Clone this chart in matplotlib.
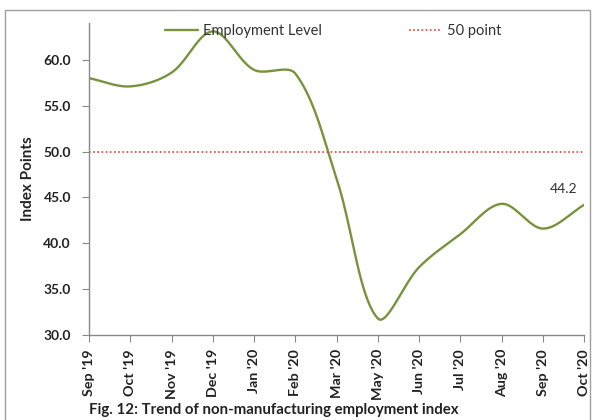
import numpy as np
import matplotlib
matplotlib.use("Agg")
import matplotlib.pyplot as plt
from matplotlib.patches import Rectangle

categories = ["Sep '19", "Oct '19", "Nov '19", "Dec '19", "Jan '20", "Feb '20",
              "Mar '20", "May '20", "Jun '20", "Jul '20", "Aug '20", "Sep '20", "Oct '20"]
employment = [58.0, 57.1, 58.6, 63.1, 58.9, 58.5, 47.0, 31.8, 37.4, 41.0, 44.3, 41.6, 44.2]
threshold = 50.0
yticks = [30.0, 35.0, 40.0, 45.0, 50.0, 55.0, 60.0]

plt.rcParams['font.family'] = ['Lato', 'DejaVu Sans']

def smooth(x, y, sx_scale, sy_scale, n=40):
    # Bezier smoothing with control arms scaled by screen-space segment lengths
    P = np.column_stack([np.asarray(x, float) * sx_scale, np.asarray(y, float) * sy_scale])
    m = len(P)
    out = []
    t = np.linspace(0, 1, n)[:, None]
    for i in range(m - 1):
        p0 = P[i - 1] if i > 0 else P[i]
        p1, p2 = P[i], P[i + 1]
        p3 = P[i + 2] if i + 2 < m else P[i + 1]
        l01 = np.linalg.norm(p1 - p0); l12 = np.linalg.norm(p2 - p1); l23 = np.linalg.norm(p3 - p2)
        f1 = l12 / (l01 + l12) if (l01 + l12) > 0 else 0.5
        f2 = l12 / (l12 + l23) if (l12 + l23) > 0 else 0.5
        c1 = p1 + (p2 - p0) * f1 / 3.0
        c2 = p2 - (p3 - p1) * f2 / 3.0
        b = (1 - t) ** 3 * p1 + 3 * (1 - t) ** 2 * t * c1 + 3 * (1 - t) * t ** 2 * c2 + t ** 3 * p2
        out.append(b)
    B = np.vstack(out)
    return B[:, 0] / sx_scale, B[:, 1] / sy_scale

fig = plt.figure(figsize=(5.96, 4.20), dpi=100)
fig.patches.append(Rectangle((0.008, -0.01), 0.982, 0.986, transform=fig.transFigure,
                             fill=False, edgecolor='#a0a0a0', linewidth=1.0))
ax = fig.add_axes([0.1493, 0.2024, 0.831, 0.7426])

x = np.arange(len(categories))
cx, cy = smooth(x, employment, 41.2, 9.17)
ax.plot(cx, cy, color='#77933C', linewidth=1.7, label='Employment Level', solid_capstyle='round')
ax.plot([x[0], x[-1]], [threshold, threshold], color='#E0403A', linestyle=(0, (1, 1.5)),
        linewidth=1.2, label='50 point')

ax.set_xlim(x[0], x[-1])
ax.set_ylim(30, 64)
ax.set_yticks(yticks)
ax.set_yticklabels([f"{v:.1f}" for v in yticks], fontsize=10, fontweight='bold', color='#222222')
ax.set_xticks(x)
ax.set_xticklabels(categories, rotation=90, fontsize=10.3, fontweight='bold', color='#222222')
ax.tick_params(axis='y', direction='out', length=5, color='#888888', pad=8)
ax.tick_params(axis='x', direction='out', length=5, color='#888888', pad=5)
for s in ['top', 'right']:
    ax.spines[s].set_visible(False)
for s in ['left', 'bottom']:
    ax.spines[s].set_color('#888888')
    ax.spines[s].set_linewidth(1.0)

ax.set_ylabel('Index Points', fontsize=11, fontweight='bold', color='#222222', labelpad=6)

ax.annotate(f"{employment[-1]:.1f}", xy=(x[-1], employment[-1]), xytext=(-15, 7),
            textcoords='offset points', fontsize=10, color='#333333', ha='center', va='bottom')

leg = ax.legend(loc='upper center', bbox_to_anchor=(0.493, 1.04), ncol=2, frameon=False,
                fontsize=10.5, handlelength=2.25, columnspacing=6.0, handletextpad=0.35)
for t in leg.get_texts():
    t.set_color('#333333')

fig.text(0.150, 0.024, 'Fig. 12: Trend of non-manufacturing employment index',
         fontsize=10.8, fontweight='bold', color='#222222', ha='left', va='center')

fig.savefig('out.png', dpi=100)
